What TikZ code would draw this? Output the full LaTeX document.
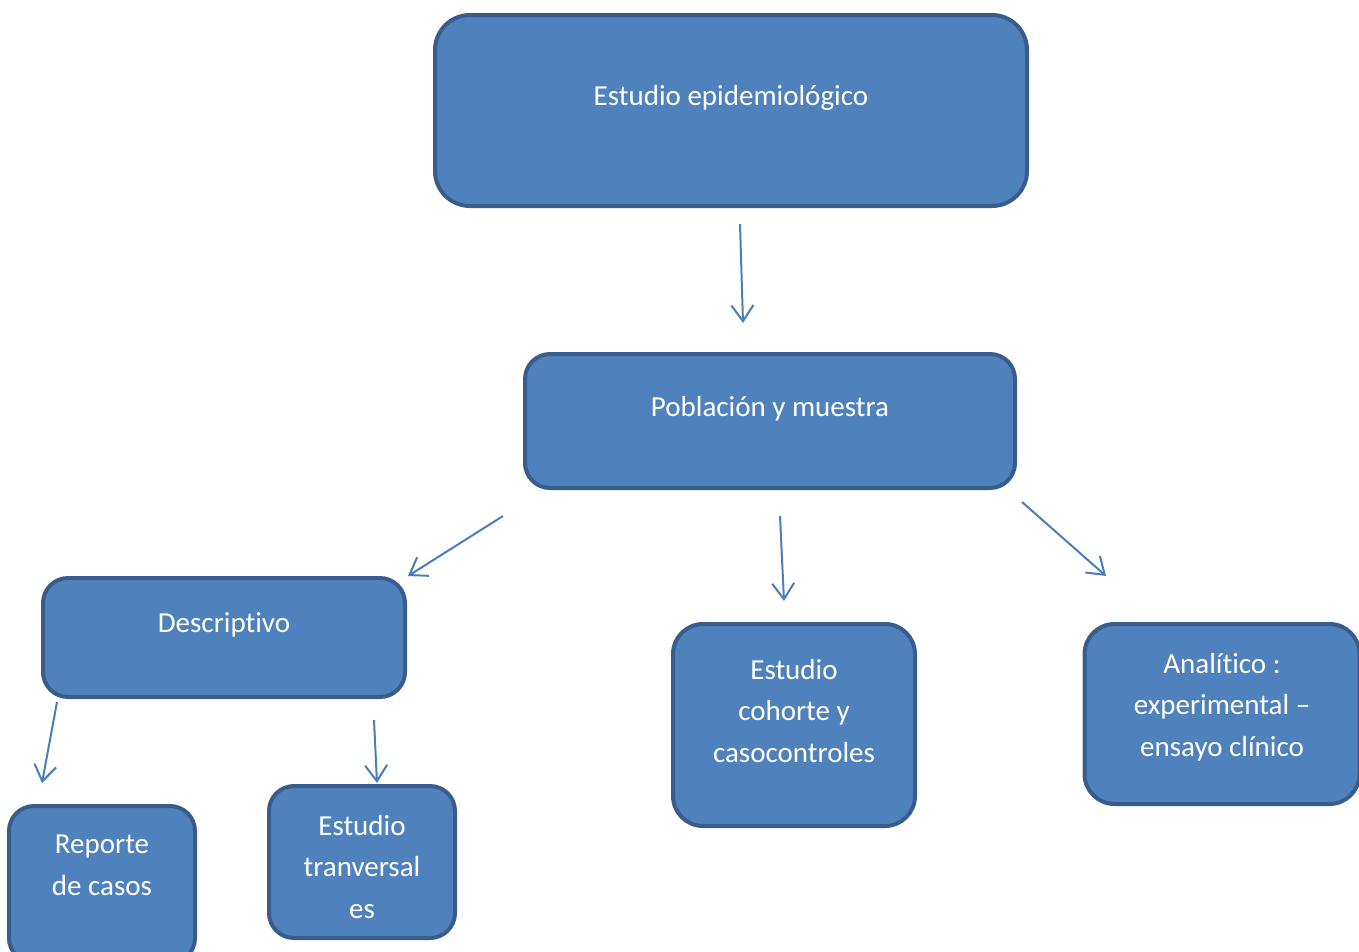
\documentclass[tikz,border=0pt]{standalone}
\usepackage{fontspec}
\setmainfont{Carlito}[Ligatures={NoCommon}]
\usetikzlibrary{arrows.meta}
\definecolor{boxfill}{HTML}{4F81BD}
\definecolor{boxline}{HTML}{385D8A}
\definecolor{arrowcol}{HTML}{4A7EBB}
\tikzset{
  box/.style={draw=boxline, fill=boxfill, line width=4pt, rounded corners=#1, inner sep=0pt},
  box/.default=25pt,
  lbl/.style={text=white, align=center, anchor=north, inner sep=0pt,
    font=\fontsize{29}{41.5}\selectfont, execute at begin node=\strut},
  arr/.style={draw=arrowcol, line width=2pt, -{Straight Barb[length=16pt, width=22pt, line width=2pt]}}
}
\begin{document}
\begin{tikzpicture}[x=1pt, y=-1pt]
\useasboundingbox (0,0) rectangle (1359,951);
% boxes
\node[box=35pt, minimum width=592pt, minimum height=191pt] (top) at (731,110.5) {};
\node[box=25pt, minimum width=490pt, minimum height=134pt] (pob) at (770,421) {};
\node[box=25pt, minimum width=362pt, minimum height=119pt] (desc) at (224,637.5) {};
\node[box=25pt, minimum width=186pt, minimum height=157pt] (rep) at (102,884.5) {};
\node[box=25pt, minimum width=186pt, minimum height=152pt] (tra) at (362,862) {};
\node[box=30pt, minimum width=242pt, minimum height=202pt] (coh) at (794,725) {};
\node[box=30pt, minimum width=275pt, minimum height=180pt] (ana) at (1222,714) {};
% labels
\node[lbl] (ttop) at (731,76) {Estudio epidemiológico};
\node[lbl] (tpob) at (770,387) {Población y muestra};
\node[lbl] (tdesc) at (224,603) {Descriptivo};
\node[lbl] (trep) at (102,835) {Reporte\\de casos};
\node[lbl] (ttra) at (362,815) {Estudio\\tranversal\\es};
\node[lbl] (tcoh) at (794,659) {Estudio\\cohorte y\\casocontroles};
\node[lbl] (tana) at (1222,653) {Analítico :\\experimental –\\ensayo clínico};
% arrow end points
\coordinate (a1s) at (740,224); \coordinate (a1e) at (743,323);
\coordinate (a2s) at (503,516); \coordinate (a2e) at (408,576);
\coordinate (a3s) at (780,516); \coordinate (a3e) at (784,601);
\coordinate (a4s) at (1022,502); \coordinate (a4e) at (1106,576);
\coordinate (a5s) at (57,702); \coordinate (a5e) at (42,783);
\coordinate (a6s) at (374,720); \coordinate (a6e) at (377,783);
\draw[arr] (a1s) -- (a1e);
\draw[arr] (a2s) -- (a2e);
\draw[arr] (a3s) -- (a3e);
\draw[arr] (a4s) -- (a4e);
\draw[arr] (a5s) -- (a5e);
\draw[arr] (a6s) -- (a6e);
\end{tikzpicture}
\end{document}
